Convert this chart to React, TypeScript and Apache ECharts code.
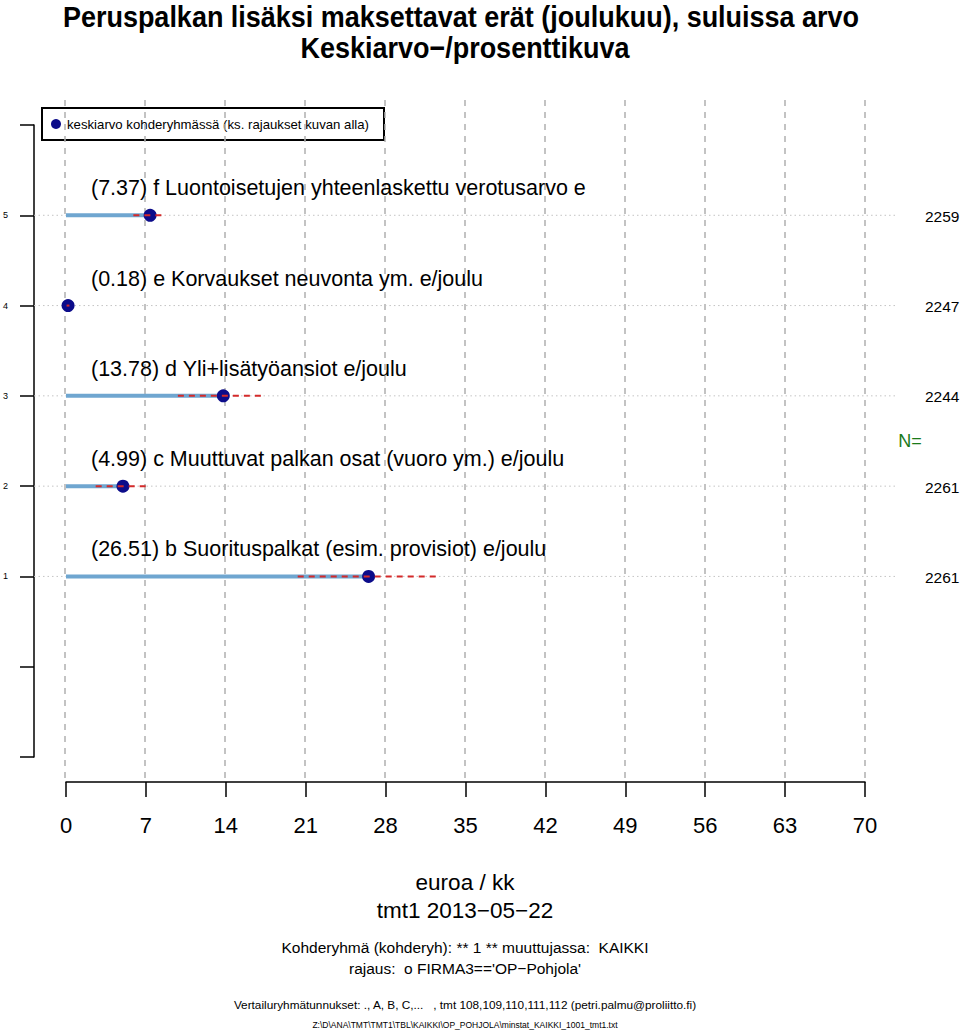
import React, { useEffect, useRef } from "react";
import * as echarts from "echarts";

// ---- data ----
const categories = [
  "b Suorituspalkat (esim. provisiot) e/joulu",
  "c Muuttuvat palkan osat (vuoro ym.) e/joulu",
  "d Yli+lisätyöansiot e/joulu",
  "e Korvaukset neuvonta ym. e/joulu",
  "f Luontoisetujen yhteenlaskettu verotusarvo e",
];
const rowPositions = [1, 2, 3, 4, 5];
const means = [26.51, 4.99, 13.78, 0.18, 7.37];
const lowerBound = [20.3, 2.6, 9.8, 0.05, 5.9];
const upperBound = [32.8, 7.2, 17.3, 0.3, 8.5];
const nCounts = [2261, 2261, 2244, 2247, 2259];
const yTickLabels = ["1", "2", "3", "4", "5"];

const titleLines = [
  "Peruspalkan lisäksi maksettavat erät (joulukuu), suluissa arvo",
  "Keskiarvo\u2212/prosenttikuva",
];
const legendText = "keskiarvo kohderyhmässä (ks. rajaukset kuvan alla)";
const footer = {
  unit: "euroa / kk",
  date: "tmt1 2013\u221205\u221222",
  group: "Kohderyhmä (kohderyh): ** 1 ** muuttujassa:  KAIKKI",
  filter: "rajaus:  o FIRMA3=='OP\u2212Pohjola'",
  compare:
    "Vertailuryhmätunnukset: ., A, B, C,...   , tmt 108,109,110,111,112 (petri.palmu@proliitto.fi)",
  file: "Z:\\D\\ANA\\TMT\\TMT1\\TBL\\KAIKKI\\OP_POHJOLA\\minstat_KAIKKI_1001_tmt1.txt",
};

const FONT = "'Liberation Sans', Arial, Helvetica, sans-serif";

export default function App() {
  const ref = useRef<HTMLDivElement>(null);

  useEffect(() => {
    if (!ref.current) return;
    const chart = echarts.init(ref.current, null, { renderer: "svg" });

    const rowData = rowPositions.map((r, i) => [
      r,
      means[i],
      lowerBound[i],
      upperBound[i],
      nCounts[i],
      i,
    ]);

    const cx = 465;

    chart.setOption({
      animation: false,
      backgroundColor: "#ffffff",
      grid: [
        { left: 65, right: 95, top: 100, bottom: 253 },
        { left: 65, right: 95, top: 125, bottom: 274 },
      ],
      xAxis: [
        {
          gridIndex: 0,
          type: "value",
          min: 0,
          max: 70,
          interval: 7,
          axisLine: { show: false },
          axisTick: { show: false },
          axisLabel: { show: false },
          splitLine: {
            show: true,
            lineStyle: { color: "#b0b0b0", width: 1.5, type: [6, 6] },
          },
        },
        {
          gridIndex: 1,
          type: "value",
          min: 0,
          max: 70,
          interval: 7,
          position: "bottom",
          offset: 25,
          axisLine: { show: true, onZero: false, lineStyle: { color: "#000", width: 1.5 } },
          axisTick: { show: true, length: 15, lineStyle: { color: "#000", width: 1.5 } },
          axisLabel: { fontSize: 22, color: "#000", margin: 32, fontFamily: FONT },
          splitLine: { show: false },
        },
      ],
      yAxis: [
        { gridIndex: 0, type: "value", min: 0, max: 1, show: false },
        {
          gridIndex: 1,
          type: "value",
          min: -1,
          max: 6,
          interval: 1,
          position: "left",
          offset: 32,
          axisLine: { show: true, onZero: false, lineStyle: { color: "#000", width: 1.5 } },
          axisTick: { show: true, length: 14, lineStyle: { color: "#000", width: 1.5 } },
          axisLabel: {
            fontSize: 9,
            color: "#000",
            margin: 26,
            fontFamily: FONT,
            formatter: (v: number) => (v >= 1 && v <= 5 ? yTickLabels[v - 1] : ""),
          },
          splitLine: { show: false },
        },
      ],
      series: [
        {
          type: "custom",
          xAxisIndex: 1,
          yAxisIndex: 1,
          clip: false,
          data: rowData,
          renderItem: (params: any, api: any) => {
            const row = api.value(0);
            const mean = api.value(1);
            const lo = api.value(2);
            const hi = api.value(3);
            const n = api.value(4);
            const idx = api.value(5);
            const p0 = api.coord([0, row]);
            const pm = api.coord([mean, row]);
            const pl = api.coord([lo, row]);
            const ph = api.coord([hi, row]);
            const pe = api.coord([70, row]);
            const y = p0[1];
            return {
              type: "group",
              children: [
                {
                  type: "line",
                  shape: { x1: p0[0] - 32, y1: y, x2: pe[0] + 30, y2: y },
                  style: { stroke: "#c4c4c4", lineWidth: 1, lineDash: [1.5, 3] },
                },
                {
                  type: "line",
                  shape: { x1: p0[0], y1: y, x2: pm[0], y2: y },
                  style: { stroke: "#6fa6d0", lineWidth: 4 },
                },
                {
                  type: "circle",
                  shape: { cx: pm[0], cy: y, r: 6.5 },
                  style: { fill: "#0c0c8a" },
                },
                {
                  type: "line",
                  shape: { x1: pl[0], y1: y, x2: ph[0], y2: y },
                  style: { stroke: "#d42a2a", lineWidth: 2, lineDash: [6, 5] },
                },
                {
                  type: "text",
                  x: p0[0] + 25,
                  y: y - 27,
                  style: {
                    text: `(${mean.toFixed(2)}) ${categories[idx]}`,
                    fontSize: 21.5,
                    fontFamily: FONT,
                    fill: "#000",
                    verticalAlign: "middle",
                    textAlign: "left",
                  },
                },
                {
                  type: "text",
                  x: pe[0] + 60,
                  y: y + 1,
                  style: {
                    text: String(n),
                    fontSize: 15.5,
                    fontFamily: FONT,
                    fill: "#000",
                    verticalAlign: "middle",
                    textAlign: "left",
                  },
                },
              ],
            };
          },
        },
      ],
      graphic: [
        {
          type: "text",
          x: cx - 4,
          y: 16,
          scaleX: 0.9,
          style: {
            text: titleLines[0],
            fontSize: 30,
            fontWeight: "bold",
            fontFamily: FONT,
            fill: "#000",
            textAlign: "center",
            verticalAlign: "middle",
          },
        },
        {
          type: "text",
          x: cx,
          y: 47,
          scaleX: 0.9,
          style: {
            text: titleLines[1],
            fontSize: 30,
            fontWeight: "bold",
            fontFamily: FONT,
            fill: "#000",
            textAlign: "center",
            verticalAlign: "middle",
          },
        },
        {
          type: "group",
          z: 100,
          children: [
            {
              type: "rect",
              shape: { x: 42, y: 108, width: 342, height: 32 },
              style: { fill: "#fff", stroke: "#000", lineWidth: 2 },
            },
            {
              type: "circle",
              shape: { cx: 56, cy: 124, r: 5 },
              style: { fill: "#0c0c8a" },
            },
            {
              type: "text",
              x: 67,
              y: 124,
              style: {
                text: legendText,
                fontSize: 13.2,
                fontFamily: FONT,
                fill: "#000",
                verticalAlign: "middle",
              },
            },
          ],
        },
        {
          type: "text",
          x: 910,
          y: 441,
          style: {
            text: "N=",
            fontSize: 18,
            fontFamily: FONT,
            fill: "#1a7a1a",
            textAlign: "center",
            verticalAlign: "middle",
          },
        },
        {
          type: "text",
          x: cx,
          y: 882,
          style: { text: footer.unit, fontSize: 22.5, fontFamily: FONT, fill: "#000", textAlign: "center", verticalAlign: "middle" },
        },
        {
          type: "text",
          x: cx,
          y: 910,
          style: { text: footer.date, fontSize: 22.5, fontFamily: FONT, fill: "#000", textAlign: "center", verticalAlign: "middle" },
        },
        {
          type: "text",
          x: cx,
          y: 947,
          style: { text: footer.group, fontSize: 15.5, fontFamily: FONT, fill: "#000", textAlign: "center", verticalAlign: "middle" },
        },
        {
          type: "text",
          x: cx,
          y: 968,
          style: { text: footer.filter, fontSize: 15.5, fontFamily: FONT, fill: "#000", textAlign: "center", verticalAlign: "middle" },
        },
        {
          type: "text",
          x: cx,
          y: 1005,
          style: { text: footer.compare, fontSize: 11.8, fontFamily: FONT, fill: "#000", textAlign: "center", verticalAlign: "middle" },
        },
        {
          type: "text",
          x: cx,
          y: 1025,
          style: { text: footer.file, fontSize: 8.5, fontFamily: FONT, fill: "#000", textAlign: "center", verticalAlign: "middle" },
        },
      ],
    });

    return () => {
      chart.dispose();
    };
  }, []);

  return (
    <div
      ref={ref}
      style={{ position: "absolute", left: 0, top: 0, width: 960, height: 1031 }}
    />
  );
}
